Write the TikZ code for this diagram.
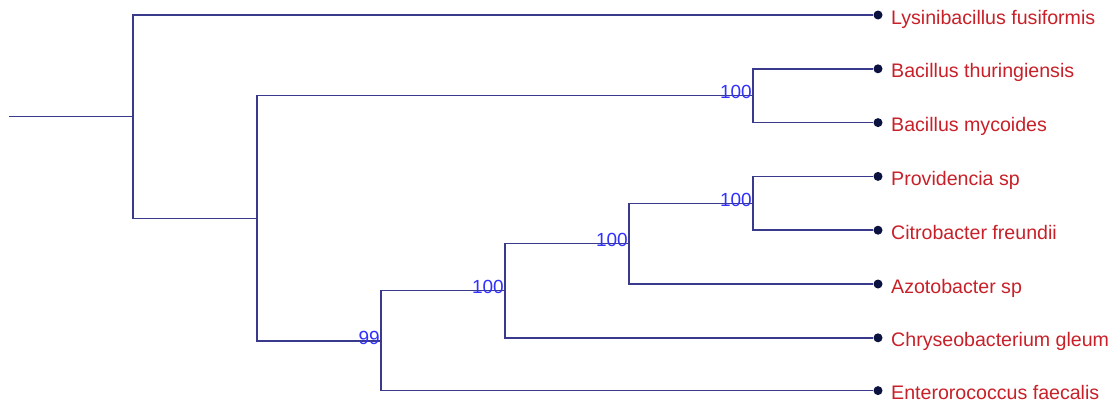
\documentclass[tikz,border=0pt]{standalone}
\usepackage{fontspec}
\setmainfont{Liberation Sans}
\definecolor{branchc}{RGB}{58,58,140}
\definecolor{dotc}{RGB}{12,18,64}
\definecolor{taxonc}{RGB}{200,32,40}
\definecolor{bootc}{RGB}{48,48,255}
\begin{document}
\begin{tikzpicture}[x=1pt,y=-1pt,
  branch/.style={draw=branchc,line width=1.5pt},
  leaf/.style={circle,fill=dotc,inner sep=0pt,minimum size=9pt},
  taxon/.style={anchor=base west,text=taxonc,inner sep=0pt,font=\fontsize{19.6}{22}\selectfont},
  boot/.style={anchor=base east,text=bootc,inner sep=0pt,font=\fontsize{19}{22}\selectfont}]
\useasboundingbox (0,0) rectangle (1113,402);
\node[leaf] (l1) at (878,15) {};
\node[leaf] (l2) at (878,68.8) {};
\node[leaf] (l3) at (878,122.6) {};
\node[leaf] (l4) at (878,176.4) {};
\node[leaf] (l5) at (878,230.2) {};
\node[leaf] (l6) at (878,284) {};
\node[leaf] (l7) at (878,337.8) {};
\node[leaf] (l8) at (878,390.6) {};
\node[taxon] (t1) at (891,24) {Lysinibacillus fusiformis};
\node[taxon] (t2) at (891,77.8) {Bacillus thuringiensis};
\node[taxon] (t3) at (891,131.6) {Bacillus mycoides};
\node[taxon] (t4) at (891,185.4) {Providencia sp};
\node[taxon] (t5) at (891,239.2) {Citrobacter freundii};
\node[taxon] (t6) at (891,293) {Azotobacter sp};
\node[taxon] (t7) at (891,346.8) {Chryseobacterium gleum};
\node[taxon] (t8) at (891,399.2) {Enterorococcus faecalis};
\coordinate (base) at (9,116.7);
\coordinate (root) at (133,116.7);
\coordinate (n1) at (257,218.4);
\coordinate (n2) at (753,95.7);
\coordinate (n3) at (381,341.2);
\coordinate (n4) at (505,290.7);
\coordinate (n5) at (629,243.7);
\coordinate (n6) at (753,203.3);
\draw[branch] (base)--(root);
\draw[branch] (root)|-(l1);
\draw[branch] (root)|-(n1);
\draw[branch] (n1)|-(n2);
\draw[branch] (n1)|-(n3);
\draw[branch] (n2)|-(l2);
\draw[branch] (n2)|-(l3);
\draw[branch] (n3)|-(n4);
\draw[branch] (n3)|-(l8);
\draw[branch] (n4)|-(n5);
\draw[branch] (n4)|-(l7);
\draw[branch] (n5)|-(n6);
\draw[branch] (n5)|-(l6);
\draw[branch] (n6)|-(l4);
\draw[branch] (n6)|-(l5);
\node[boot] (b2) at ([xshift=-1pt,yshift=-3pt]n2) {100};
\node[boot] (b3) at ([xshift=-1pt,yshift=-3pt]n3) {99};
\node[boot] (b4) at ([xshift=-1pt,yshift=-3pt]n4) {100};
\node[boot] (b5) at ([xshift=-1pt,yshift=-3pt]n5) {100};
\node[boot] (b6) at ([xshift=-1pt,yshift=-3pt]n6) {100};
\end{tikzpicture}
\end{document}
